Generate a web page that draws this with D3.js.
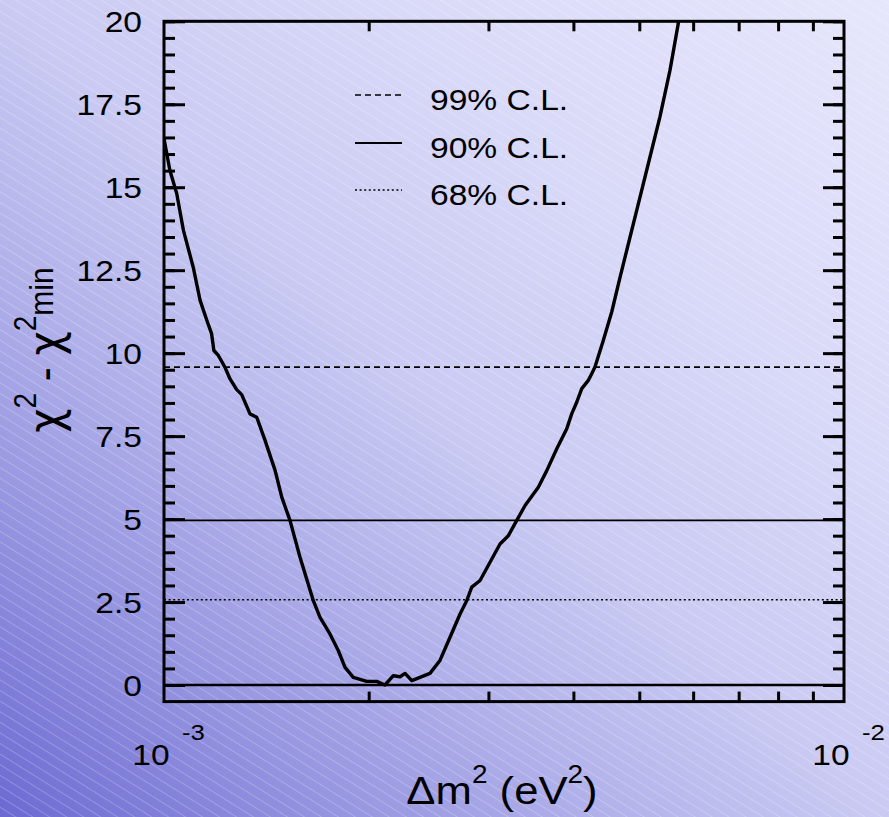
<!DOCTYPE html>
<html>
<head>
<meta charset="utf-8">
<script src="https://cdn.jsdelivr.net/npm/d3@7"></script>
<style>
  html, body { margin: 0; padding: 0; background: #d0d0f4; }
  svg { display: block; }
  text { font-family: "Liberation Sans", Arial, Helvetica, sans-serif; fill: #000; }
</style>
</head>
<body>
<svg id="chart" width="889" height="817"></svg>
<script>
// Δm² scan: chi-square difference versus mass splitting (eV²)
const dm2 = [
  1.000e-3, 1.020e-3, 1.044e-3, 1.068e-3, 1.104e-3, 1.130e-3, 1.156e-3, 1.175e-3,
  1.184e-3, 1.202e-3, 1.229e-3, 1.250e-3, 1.279e-3, 1.301e-3, 1.338e-3, 1.369e-3,
  1.408e-3, 1.457e-3, 1.490e-3, 1.532e-3, 1.585e-3, 1.658e-3, 1.696e-3, 1.754e-3,
  1.804e-3, 1.846e-3, 1.898e-3, 1.987e-3, 2.055e-3, 2.113e-3, 2.174e-3, 2.224e-3,
  2.262e-3, 2.314e-3, 2.461e-3, 2.546e-3, 2.634e-3, 2.725e-3, 2.787e-3, 2.835e-3,
  2.916e-3, 3.016e-3, 3.120e-3, 3.209e-3, 3.302e-3, 3.396e-3, 3.552e-3, 3.655e-3,
  3.781e-3, 3.911e-3, 3.977e-3, 4.045e-3, 4.115e-3, 4.207e-3, 4.256e-3, 4.303e-3,
  4.426e-3, 4.554e-3, 4.685e-3, 4.846e-3, 5.012e-3, 5.184e-3, 5.362e-3, 5.547e-3,
  5.705e-3, 5.740e-3
];
const dchi2 = [
  16.47, 15.51, 14.81, 13.70, 12.59, 11.59, 10.99, 10.58,
  10.08, 9.93, 9.58, 9.23, 8.90, 8.75, 8.17, 8.07,
  7.37, 6.46, 5.66, 4.96, 3.85, 2.54, 2.04, 1.54,
  1.04, 0.53, 0.23, 0.11, 0.11, 0.00, 0.28, 0.25,
  0.35, 0.13, 0.35, 0.74, 1.44, 2.14, 2.54, 2.95,
  3.15, 3.70, 4.25, 4.50, 4.96, 5.41, 5.96, 6.46,
  7.12, 7.72, 8.17, 8.52, 8.93, 9.18, 9.38, 9.58,
  10.38, 11.24, 12.29, 13.50, 14.70, 15.91, 17.12, 18.52,
  19.93, 20.30
];

// confidence-level reference lines
const clLabels = ["99% C.L.", "90% C.L.", "68% C.L."];
const clValues = [9.58, 4.96, 2.57];
const clDash = ["6,4", null, "2,2.6"];

// axis ticks
const yMajorTicks = [0, 2.5, 5, 7.5, 10, 12.5, 15, 17.5, 20];
const yMinorTicks = d3.range(0, 20.01, 0.5);
const xMinorTicks = [2e-3, 3e-3, 4e-3, 5e-3, 6e-3, 7e-3, 8e-3, 9e-3];
const xLabelTicks = [{ v: 1e-3, base: "10", exp: "-3" }, { v: 1e-2, base: "10", exp: "-2" }];

const W = 889, H = 817;
const frame = { left: 164, right: 844, top: 21.3, bottom: 701.6 };
const SX = 1.12; // horizontal stretch of lettering

const svg = d3.select("#chart");
const defs = svg.append("defs");

// background: diagonal gradient plus fine hatching
const grad = defs.append("linearGradient").attr("id", "bg")
  .attr("x1", 0).attr("y1", 1).attr("x2", 1).attr("y2", 0);
[[0, "#6c6ad2"], [0.18, "#9392df"], [0.35, "#b3b3eb"], [0.5, "#cacaf3"],
 [0.75, "#dbdbf9"], [1, "#e6e6fc"]].forEach(([o, c]) =>
  grad.append("stop").attr("offset", o).attr("stop-color", c));

const pat = defs.append("pattern").attr("id", "hatch")
  .attr("patternUnits", "userSpaceOnUse").attr("width", 9).attr("height", 9)
  .attr("patternTransform", "rotate(32)");
pat.append("line").attr("x1", 0).attr("y1", 0.5).attr("x2", 9).attr("y2", 0.5)
  .attr("stroke", "#ffffff").attr("stroke-opacity", 0.22).attr("stroke-width", 1);

svg.append("rect").attr("width", W).attr("height", H).attr("fill", "url(#bg)");
svg.append("rect").attr("width", W).attr("height", H).attr("fill", "url(#hatch)");

defs.append("clipPath").attr("id", "plotclip").append("rect")
  .attr("x", frame.left).attr("y", frame.top)
  .attr("width", frame.right - frame.left).attr("height", frame.bottom - frame.top);

const x = d3.scaleLog().domain([1e-3, 1e-2]).range([frame.left, frame.right]);
const y = d3.scaleLinear().domain([-0.5, 20]).range([frame.bottom, frame.top]);

function stretchedText(g, px, py, str, size, anchor) {
  return g.append("text")
    .attr("transform", `translate(${px},${py}) scale(${SX},1)`)
    .attr("text-anchor", anchor || "start")
    .attr("font-size", size)
    .style("font-size", size + "px")
    .text(str);
}

// reference lines
const plot = svg.append("g").attr("clip-path", "url(#plotclip)");
plot.append("line")
  .attr("x1", x(1e-3)).attr("x2", x(1e-2)).attr("y1", y(0)).attr("y2", y(0))
  .attr("stroke", "#000").attr("stroke-width", 2.5);
clValues.forEach((v, i) => {
  plot.append("line")
    .attr("x1", x(1e-3)).attr("x2", x(1e-2)).attr("y1", y(v)).attr("y2", y(v))
    .attr("stroke", "#000").attr("stroke-width", i === 1 ? 1.8 : 1.6)
    .attr("stroke-dasharray", clDash[i]);
});

// scan curve
const pts = dm2.map((d, i) => [d, dchi2[i]]);
plot.append("path").datum(pts)
  .attr("fill", "none").attr("stroke", "#000").attr("stroke-width", 3.4)
  .attr("stroke-linejoin", "round")
  .attr("d", d3.line().x(d => x(d[0])).y(d => y(d[1])));

// axes with inward ticks
function styleAxis(g) {
  g.select(".domain").remove();
  g.selectAll(".tick line").attr("stroke", "#000").attr("stroke-width", 3);
  g.selectAll(".tick text").remove();
}
svg.append("g").attr("transform", `translate(${frame.left},0)`)
  .call(d3.axisLeft(y).tickValues(yMinorTicks).tickSize(-11).tickFormat(""))
  .call(styleAxis);
svg.append("g").attr("transform", `translate(${frame.left},0)`)
  .call(d3.axisLeft(y).tickValues(yMajorTicks).tickSize(-21).tickFormat(""))
  .call(styleAxis);
svg.append("g").attr("transform", `translate(${frame.right},0)`)
  .call(d3.axisRight(y).tickValues(yMinorTicks).tickSize(-11).tickFormat(""))
  .call(styleAxis);
svg.append("g").attr("transform", `translate(${frame.right},0)`)
  .call(d3.axisRight(y).tickValues(yMajorTicks).tickSize(-21).tickFormat(""))
  .call(styleAxis);
svg.append("g").attr("transform", `translate(0,${frame.bottom})`)
  .call(d3.axisBottom(x).tickValues(xMinorTicks).tickSize(-10).tickFormat(""))
  .call(styleAxis);
svg.append("g").attr("transform", `translate(0,${frame.top})`)
  .call(d3.axisTop(x).tickValues(xMinorTicks).tickSize(-10).tickFormat(""))
  .call(styleAxis);

// y tick labels
yMajorTicks.forEach(v => stretchedText(svg, frame.left - 22, y(v) + 11, String(v), 30, "end"));

// frame
svg.append("rect")
  .attr("x", frame.left).attr("y", frame.top)
  .attr("width", frame.right - frame.left).attr("height", frame.bottom - frame.top)
  .attr("fill", "none").attr("stroke", "#000").attr("stroke-width", 3);

// x tick labels as powers of ten
xLabelTicks.forEach(t => {
  stretchedText(svg, x(t.v) - 13, 765, t.base, 30, "middle");
  stretchedText(svg, x(t.v) + 18, 740, t.exp, 23, "start");
});

// x axis title
const xt = svg.append("text")
  .attr("transform", `translate(502,804) scale(${SX},1)`)
  .attr("text-anchor", "middle")
  .style("font-size", "39px");
xt.append("tspan").text("Δm");
xt.append("tspan").attr("dy", -21).style("font-size", "25px").text("2");
xt.append("tspan").attr("dy", 21).text(" (eV");
xt.append("tspan").attr("dy", -21).style("font-size", "25px").text("2");
xt.append("tspan").attr("dy", 21).text(")");

// y axis title
const greek = "'DejaVu Sans', 'Noto Sans', sans-serif";
const yt = svg.append("text")
  .attr("transform", `translate(61,350) scale(${SX},1) rotate(-90)`)
  .attr("text-anchor", "middle")
  .style("font-size", "42px");
yt.append("tspan").style("font-family", greek).text("χ");
yt.append("tspan").attr("dy", -22).style("font-size", "28px").text("2");
yt.append("tspan").attr("dy", 22).text(" - ");
yt.append("tspan").style("font-family", greek).text("χ");
yt.append("tspan").attr("dy", -22).style("font-size", "28px").text("2");
yt.append("tspan").attr("dy", 15).style("font-size", "30px").text("min");

// legend
const legY = [95, 143, 190];
clLabels.forEach((lab, i) => {
  svg.append("line")
    .attr("x1", 355).attr("x2", 402).attr("y1", legY[i]).attr("y2", legY[i])
    .attr("stroke", "#000").attr("stroke-width", i === 1 ? 1.8 : 1.6)
    .attr("stroke-dasharray", clDash[i]);
  stretchedText(svg, 430, legY[i] + 15, lab, 30, "start");
});
</script>
</body>
</html>
